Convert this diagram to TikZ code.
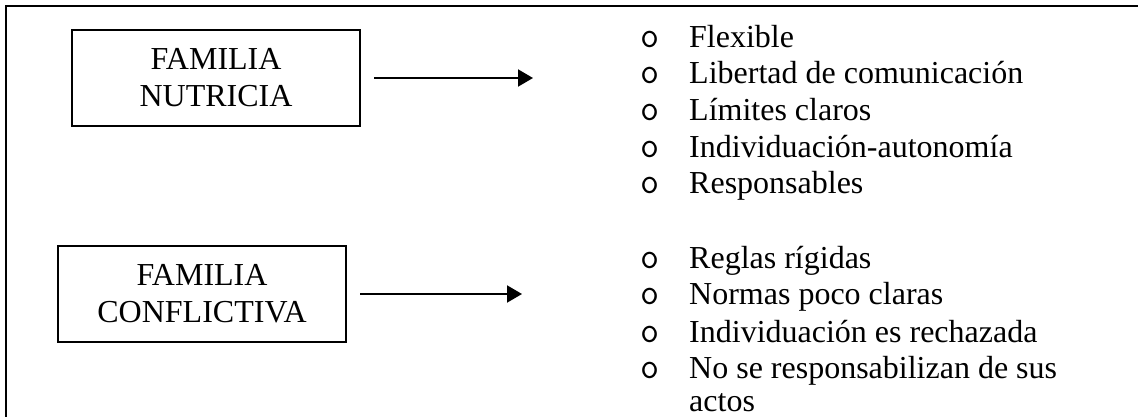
\documentclass[tikz,border=0pt]{standalone}
\usepackage{fontspec}
\setmainfont{Liberation Serif}
\usetikzlibrary{arrows.meta}
\tikzset{
  famframe/.style={draw, line width=2pt, minimum width=288pt, minimum height=96pt, align=center, inner sep=0pt, font=\fontsize{32}{37}\selectfont},
  itemtext/.style={anchor=base west, inner sep=0pt, font=\fontsize{32}{37}\selectfont},
  bul/.style={anchor=base, inner sep=0pt, font=\ttfamily\fontsize{37}{37}\selectfont},
  conn/.style={line width=2pt, -{Triangle[length=15pt,width=17pt]}, shorten <=13pt},
}
\begin{document}
\begin{tikzpicture}[x=1pt,y=-1pt]
\useasboundingbox (0,0) rectangle (1138,416);
\draw[line width=2pt] (6,430) -- (6,6) -- (1150,6);
\node[famframe] (nut) at (216,78) {FAMILIA\\NUTRICIA};
\node[famframe] (con) at (202,294) {FAMILIA\\CONFLICTIVA};
\coordinate (t1) at (533,78);
\coordinate (t2) at (522,294);
\draw[conn] (nut.east) -- (t1);
\draw[conn] (con.east) -- (t2);
\foreach \y/\t [count=\i] in {47/Flexible, 83/Libertad de comunicación, 120/Límites claros, 157/Individuación-autonomía, 193/Responsables}{
  \node[bul] (b\i) at (650,\y) {o};
  \node[itemtext] (n\i) at (689,\y) {\t};
}
\foreach \y/\t [count=\i] in {268/Reglas rígidas, 304/Normas poco claras, 342/Individuación es rechazada, 378/No se responsabilizan de sus}{
  \node[bul] (c\i) at (650,\y) {o};
  \node[itemtext] (m\i) at (689,\y) {\t};
}
\node[itemtext] (m5) at (689,411) {actos};
\end{tikzpicture}
\end{document}
